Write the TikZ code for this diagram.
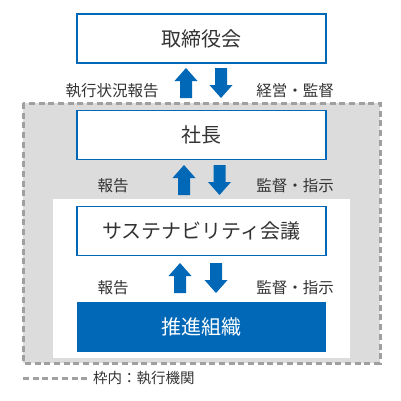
\documentclass[tikz,border=0pt]{standalone}
\usepackage{fontspec}
\setmainfont{Noto Sans CJK JP}
\definecolor{corpblue}{HTML}{0068B7}
\definecolor{txtgray}{HTML}{333333}
\definecolor{regiongray}{HTML}{DCDCDC}
\definecolor{dashgray}{HTML}{A0A0A0}
\tikzset{
  orgbox/.style={draw=corpblue, line width=1.8pt, fill=white, minimum width=249pt, minimum height=49pt, inner sep=0pt, text=txtgray, font=\fontsize{20pt}{24pt}\selectfont},
  orgfilled/.style={fill=corpblue, minimum width=249pt, minimum height=50pt, inner sep=0pt, text=white, font=\fontsize{20pt}{24pt}\selectfont},
  lbl/.style={text=txtgray, inner sep=0pt, font=\fontsize{15.5pt}{18pt}\selectfont},
  legendlbl/.style={text=txtgray, inner sep=0pt, font=\fontsize{14.5pt}{17pt}\selectfont},
  dashframe/.style={draw=dashgray, line width=3pt, dash pattern=on 6pt off 3.7pt},
  uparr/.pic={\fill[corpblue] (0,0) -- (11.5,13) -- (6,13) -- (6,30) -- (-6,30) -- (-6,13) -- (-11.5,13) -- cycle;},
  downarr/.pic={\fill[corpblue] (0,30) -- (11.5,17) -- (6,17) -- (6,0) -- (-6,0) -- (-6,17) -- (-11.5,17) -- cycle;}
}
\begin{document}
\begin{tikzpicture}[x=1pt, y=-1pt]
\useasboundingbox (0,0) rectangle (401,400);
% executive region
\fill[regiongray] (23,103) rectangle (380,363);
\fill[white] (53,199) rectangle (350,358);
\draw[dashframe] (23,103) rectangle (380,363);
% boxes
\node[orgbox] (board) at (201.5,38.5) {取締役会};
\node[orgbox] (ceo) at (201.5,135) {社長};
\node[orgbox] (sust) at (201.5,231) {サステナビリティ会議};
\node[orgfilled] (promo) at (201.5,327) {推進組織};
% arrows
\pic at (186,68) {uparr};
\pic at (221,68) {downarr};
\pic at (184,165) {uparr};
\pic at (219.5,165) {downarr};
\pic at (180,263) {uparr};
\pic at (216,263) {downarr};
% labels
\node[lbl] (l1) at (112,90.5) {執行状況報告};
\node[lbl] (r1) at (295,90.5) {経営・監督};
\node[lbl] (l2) at (113,186) {報告};
\node[lbl] (r2) at (295,186) {監督・指示};
\node[lbl] (l3) at (113,288) {報告};
\node[lbl] (r3) at (295,288) {監督・指示};
% legend
\coordinate (lgA) at (23,378);
\coordinate (lgB) at (89,378);
\draw[dashframe] (lgA) -- (lgB);
\node[legendlbl, anchor=west] (legend) at (93,378) {枠内：執行機関};
\end{tikzpicture}
\end{document}
